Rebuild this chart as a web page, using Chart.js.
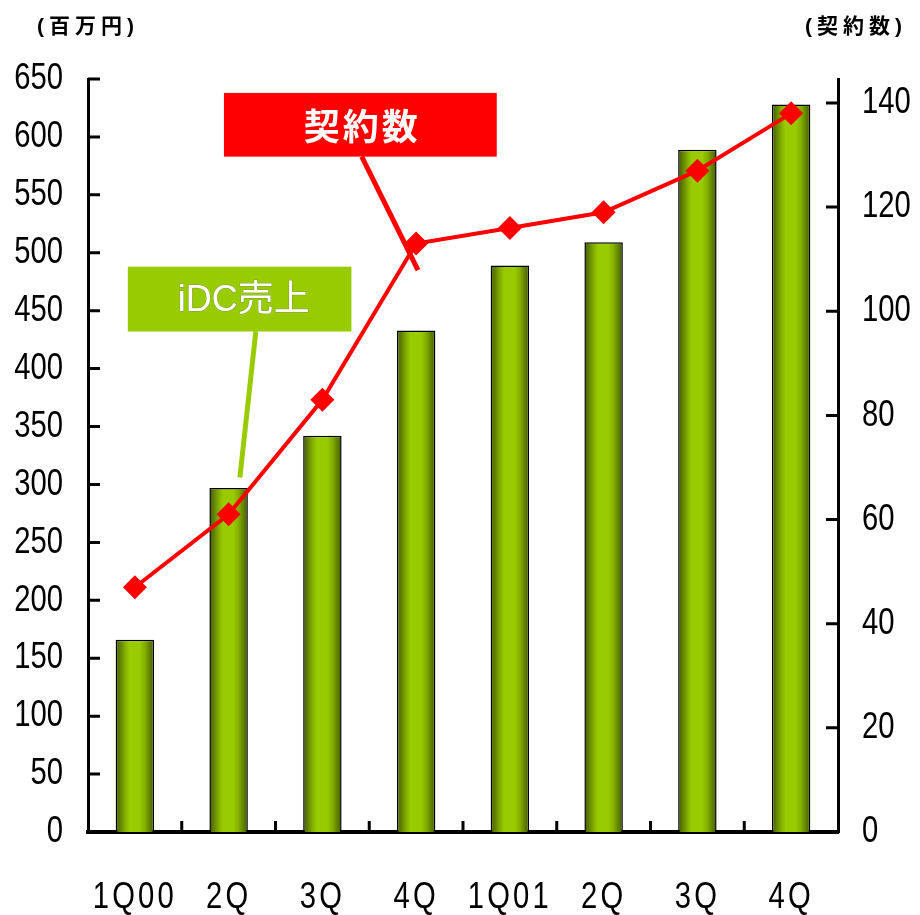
<!DOCTYPE html>
<html>
<head>
<meta charset="utf-8">
<script src="https://cdn.jsdelivr.net/npm/chart.js@4/dist/chart.umd.min.js"></script>
<style>
  body { margin: 0; background: #fff; }
  #wrap { width: 920px; height: 915px; }
</style>
</head>
<body>
<div id="wrap"><canvas id="chart" width="920" height="915"></canvas></div>
<script>
// quarters, sales (million yen, left axis) and contract count (right axis)
const quarters = ['1Q00', '2Q', '3Q', '4Q', '1Q01', '2Q', '3Q', '4Q'];
const idcSales = [166, 297, 342, 433, 489, 509, 589, 628];
const contracts = [47, 61, 83, 113, 116, 119, 127, 138];
const salesTicks = [0, 50, 100, 150, 200, 250, 300, 350, 400, 450, 500, 550, 600, 650];
const contractTicks = [0, 20, 40, 60, 80, 100, 120, 140];
const contractMax = 144.6; // right axis top lines up with 650 on the left

const labelFont = '"Liberation Sans", Arial, sans-serif';
const jpFont = '"Liberation Sans", "Noto Sans CJK JP", sans-serif';
const barPct = 0.41;
const squeeze = 0.79; // narrow-looking tick labels

function barGradient(c) {
  const xs = c.chart.scales.x;
  if (!xs) return '#99cc00';
  const cx = xs.getPixelForValue(c.dataIndex);
  const w = (xs.width / quarters.length) * barPct;
  if (!isFinite(cx) || !isFinite(w) || w <= 0) return '#99cc00';
  const g = c.chart.ctx.createLinearGradient(cx - w / 2, 0, cx + w / 2, 0);
  g.addColorStop(0, '#435a00');
  g.addColorStop(0.12, '#628200');
  g.addColorStop(0.25, '#85b000');
  g.addColorStop(0.36, '#99cc00');
  g.addColorStop(0.62, '#99cc00');
  g.addColorStop(0.76, '#84ae00');
  g.addColorStop(0.88, '#638400');
  g.addColorStop(1, '#435a00');
  return g;
}

// inward tick marks on all three axes
const innerTicks = {
  id: 'innerTicks',
  afterDatasetsDraw(chart) {
    const ctx = chart.ctx;
    const {x, y, y2} = chart.scales;
    ctx.save();
    ctx.strokeStyle = '#000';
    ctx.lineWidth = 3;
    ctx.beginPath();
    y.ticks.forEach(t => {
      const py = y.getPixelForValue(t.value);
      ctx.moveTo(y.right, py); ctx.lineTo(y.right + 12, py);
    });
    y2.ticks.forEach(t => {
      const py = y2.getPixelForValue(t.value);
      ctx.moveTo(y2.left, py); ctx.lineTo(y2.left - 12, py);
    });
    for (let i = 1; i < quarters.length; i++) {
      const px = x.getPixelForValue(i - 0.5);
      ctx.moveTo(px, x.top); ctx.lineTo(px, x.top - 11);
    }
    ctx.stroke();
    ctx.restore();
  }
};

// unit labels above the axes and the two callouts
const notes = {
  id: 'notes',
  afterDatasetsDraw(chart) {
    const ctx = chart.ctx;
    const {x, y, y2} = chart.scales;
    const px = v => x.getPixelForValue(v);
    const py = v => y.getPixelForValue(v);
    ctx.save();
    ctx.fillStyle = '#000';
    ctx.font = 'bold 21px ' + jpFont;
    ctx.letterSpacing = '5px';
    ctx.textBaseline = 'middle';
    ctx.textAlign = 'center';
    ctx.fillText('(百万円)', y.left + 88, 27);
    ctx.fillText('(契約数)', y2.right - 64, 27);

    ctx.lineCap = 'butt';
    // red callout
    ctx.strokeStyle = '#ff0000';
    ctx.lineWidth = 5;
    ctx.beginPath();
    ctx.moveTo(px(2.42), py(583));
    ctx.lineTo(px(3.02), py(485));
    ctx.stroke();
    const rx0 = px(0.95), rx1 = px(3.86), ry0 = py(638), ry1 = py(583);
    ctx.fillStyle = '#ff0000';
    ctx.fillRect(rx0, ry0, rx1 - rx0, ry1 - ry0);
    ctx.fillStyle = '#fff';
    ctx.font = 'bold 36px "Noto Sans CJK JP", sans-serif';
    ctx.letterSpacing = '3px';
    ctx.fillText('契約数', (rx0 + rx1) / 2 + 2, (ry0 + ry1) / 2 + 2);

    // green callout
    ctx.strokeStyle = '#99cc00';
    ctx.beginPath();
    ctx.moveTo(px(1.29), py(432));
    ctx.lineTo(px(1.12), py(306));
    ctx.stroke();
    const gx0 = px(-0.075), gx1 = px(2.31), gy0 = py(488), gy1 = py(432);
    ctx.fillStyle = '#99cc00';
    ctx.fillRect(gx0, gy0, gx1 - gx0, gy1 - gy0);
    ctx.fillStyle = '#fff';
    ctx.strokeStyle = 'rgba(120,120,120,0.6)';
    ctx.lineWidth = 1;
    ctx.font = '36px ' + jpFont;
    ctx.letterSpacing = '0px';
    ctx.strokeText('iDC売上', (gx0 + gx1) / 2 + 4, (gy0 + gy1) / 2 + 2);
    ctx.fillText('iDC売上', (gx0 + gx1) / 2 + 4, (gy0 + gy1) / 2 + 2);
    ctx.restore();
  }
};

// squeeze every tick label horizontally around its own anchor
const narrowLabels = {
  id: 'narrowLabels',
  afterUpdate(chart) {
    Object.values(chart.scales).forEach(s => {
      if (s._narrowed) return;
      const orig = s.drawLabels;
      const spacing = s.axis === 'x' ? '4px' : '0px';
      s.drawLabels = function (area) {
        const ctx = this.ctx;
        const tr = ctx.translate;
        ctx.save();
        ctx.letterSpacing = spacing;
        ctx.translate = function (a, b) { tr.call(this, a, b); this.scale(squeeze, 1); };
        try { orig.call(this, area); } finally {
          ctx.translate = tr;
          ctx.restore();
        }
      };
      s._narrowed = true;
    });
  }
};

new Chart(document.getElementById('chart').getContext('2d'), {
  type: 'bar',
  data: {
    labels: quarters,
    datasets: [
      {
        type: 'line',
        label: '契約数',
        data: contracts,
        yAxisID: 'y2',
        order: 1,
        borderColor: '#ff0000',
        borderWidth: 4,
        tension: 0,
        pointStyle: 'rectRot',
        pointRadius: 12,
        pointBackgroundColor: '#ff0000',
        pointBorderColor: '#ff0000',
        pointBorderWidth: 0
      },
      {
        label: 'iDC売上',
        data: idcSales,
        yAxisID: 'y',
        order: 2,
        backgroundColor: barGradient,
        borderColor: '#000',
        borderWidth: 1.5,
        barPercentage: barPct,
        categoryPercentage: 1
      }
    ]
  },
  options: {
    responsive: false,
    animation: false,
    layout: { padding: { top: 79 } },
    plugins: {
      legend: { display: false },
      tooltip: { enabled: false }
    },
    scales: {
      x: {
        grid: { display: false, drawTicks: false },
        border: { display: true, width: 4, color: '#000' },
        ticks: {
          color: '#000',
          font: { family: labelFont, size: 37 },
          padding: 44,
          maxRotation: 0,
          autoSkip: false
        },
        afterFit: s => { s.height = 83; }
      },
      y: {
        position: 'left',
        min: salesTicks[0],
        max: salesTicks[salesTicks.length - 1],
        grid: { display: false, drawTicks: false },
        border: { display: true, width: 3, color: '#000' },
        ticks: {
          color: '#000',
          font: { family: labelFont, size: 37 },
          padding: 25
        },
        afterBuildTicks: s => { s.ticks = salesTicks.map(v => ({ value: v })); },
        afterFit: s => { s.width = 88; }
      },
      y2: {
        position: 'right',
        min: contractTicks[0],
        max: contractMax,
        grid: { display: false, drawTicks: false },
        border: { display: true, width: 3, color: '#000' },
        ticks: {
          color: '#000',
          font: { family: labelFont, size: 37 },
          padding: 24
        },
        afterBuildTicks: s => { s.ticks = contractTicks.map(v => ({ value: v })); },
        afterFit: s => { s.width = 82; }
      }
    }
  },
  plugins: [narrowLabels, innerTicks, notes]
});
</script>
</body>
</html>
